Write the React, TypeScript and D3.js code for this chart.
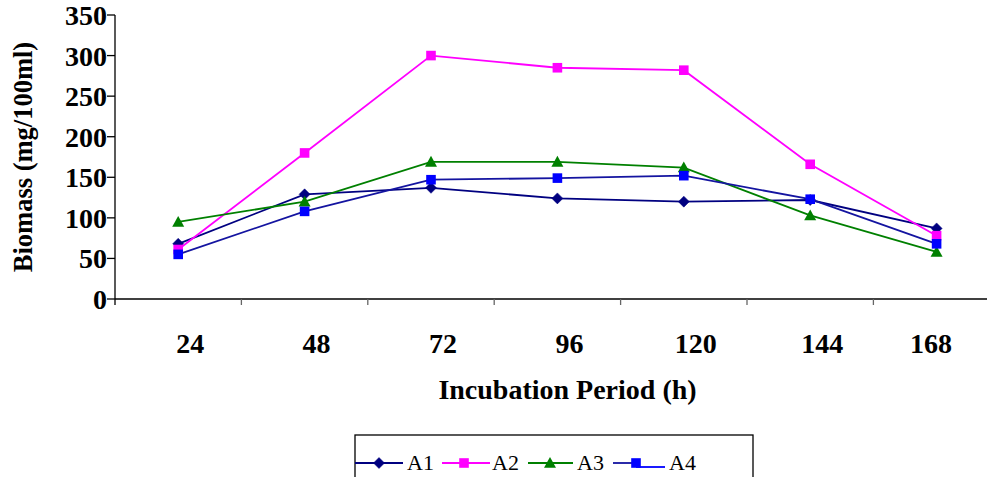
import React from "react";
import * as d3 from "d3";

const categories = ["24", "48", "72", "96", "120", "144", "168"];
const seriesNames = ["A1", "A2", "A3", "A4"];
const a1 = [68, 129, 137, 124, 120, 122, 87];
const a2 = [61, 180, 300, 285, 282, 166, 78];
const a3 = [95, 120, 169, 169, 162, 103, 58];
const a4 = [55, 108, 147, 149, 152, 123, 68];
const yTicks = [0, 50, 100, 150, 200, 250, 300, 350];

const W = 987;
const H = 477;
const FONT = "'Liberation Serif', 'Times New Roman', serif";

const series = [
  { name: seriesNames[0], values: a1, line: "#000080", fill: "#000080", shape: "diamond" },
  { name: seriesNames[1], values: a2, line: "#ff00ff", fill: "#ff00ff", shape: "square" },
  { name: seriesNames[2], values: a3, line: "#008000", fill: "#008000", shape: "triangle" },
  { name: seriesNames[3], values: a4, line: "#1414a0", fill: "#0000ff", shape: "square" },
];

function Marker({ shape, cx, cy, fill }: { shape: string; cx: number; cy: number; fill: string }) {
  if (shape === "diamond") {
    const s = 5.5;
    return <path d={`M${cx},${cy - s}L${cx + s},${cy}L${cx},${cy + s}L${cx - s},${cy}Z`} fill={fill} stroke={fill} strokeWidth={0.5} />;
  }
  if (shape === "triangle") {
    const s = 6;
    return <path d={`M${cx},${cy - s}L${cx + s},${cy + s * 0.8}L${cx - s},${cy + s * 0.8}Z`} fill={fill} />;
  }
  const s = 4.8;
  return <rect x={cx - s} y={cy - s} width={2 * s} height={2 * s} fill={fill} />;
}

export default function App() {
  const left = 115;
  const x = d3.scaleBand<string>().domain(categories).range([left, left + 7 * 126.4]).padding(0);
  const y = d3.scaleLinear().domain([0, 350]).range([299, 15]);
  const cx = (c: string) => (x(c) as number) + x.bandwidth() / 2;
  const line = d3
    .line<number>()
    .x((_, i) => cx(categories[i]))
    .y((v) => y(v));

  const legendItems = [
    { lx0: 355, lx1: 403, mx: 379, tx: 407 },
    { lx0: 442, lx1: 490, mx: 464, tx: 492 },
    { lx0: 528, lx1: 573, mx: 550, tx: 577 },
    { lx0: 613, lx1: 665, mx: 636, tx: 669 },
  ];
  const ly = 463;

  return (
    <svg width={W} height={H} style={{ position: "absolute", left: 0, top: 0, background: "#fff" }} fontFamily={FONT}>
      <rect x={0} y={0} width={W} height={H} fill="#fff" />
      {/* Y axis */}
      <line x1={left} x2={left} y1={15} y2={305} stroke="#000" strokeWidth={1.3} />
      {yTicks.map((t) => (
        <g key={t}>
          <line x1={107} x2={left} y1={y(t)} y2={y(t)} stroke="#000" strokeWidth={1.3} />
          <text x={107} y={y(t) + 10} textAnchor="end" fontSize={28} fontWeight="bold">
            {t}
          </text>
        </g>
      ))}
      {/* X axis */}
      <line x1={left} x2={W} y1={299} y2={299} stroke="#000" strokeWidth={1.3} />
      {categories.map((c, i) =>
        i === 0 ? null : (
          <line key={"t" + c} x1={x(c) as number} x2={x(c) as number} y1={299} y2={305} stroke="#666" strokeWidth={1.3} />
        )
      )}
      {categories.map((c) => (
        <text key={"l" + c} x={Math.min(cx(c) + 12, W - 56)} y={353} textAnchor="middle" fontSize={28} fontWeight="bold">
          {c}
        </text>
      ))}
      {/* Titles */}
      <text x={567.5} y={399} textAnchor="middle" fontSize={28} fontWeight="bold">
        Incubation Period (h)
      </text>
      <text transform={`translate(32,157) rotate(-90)`} textAnchor="middle" fontSize={26.5} fontWeight="bold">
        Biomass (mg/100ml)
      </text>
      {/* Series */}
      {series.map((s) => (
        <g key={s.name}>
          <path d={line(s.values) || ""} fill="none" stroke={s.line} strokeWidth={1.8} />
          {s.values.map((v, i) => (
            <Marker key={i} shape={s.shape} cx={cx(categories[i])} cy={y(v)} fill={s.fill} />
          ))}
        </g>
      ))}
      {/* Legend */}
      <rect x={355} y={435} width={398} height={60} fill="none" stroke="#000" strokeWidth={1.3} />
      {series.map((s, i) => {
        const it = legendItems[i];
        return (
          <g key={"lg" + s.name}>
            {i === 3 ? (
              <>
                <line x1={it.lx0} x2={it.mx} y1={ly} y2={ly} stroke={s.line} strokeWidth={1.8} />
                <line x1={it.mx} x2={it.lx1} y1={ly + 4} y2={ly + 4} stroke="#0000ff" strokeWidth={1.8} />
              </>
            ) : (
              <line x1={it.lx0} x2={it.lx1} y1={ly} y2={ly} stroke={s.line} strokeWidth={1.8} />
            )}
            <Marker shape={s.shape} cx={it.mx} cy={ly} fill={s.fill} />
            <text x={it.tx} y={470} fontSize={22}>
              {s.name}
            </text>
          </g>
        );
      })}
    </svg>
  );
}
